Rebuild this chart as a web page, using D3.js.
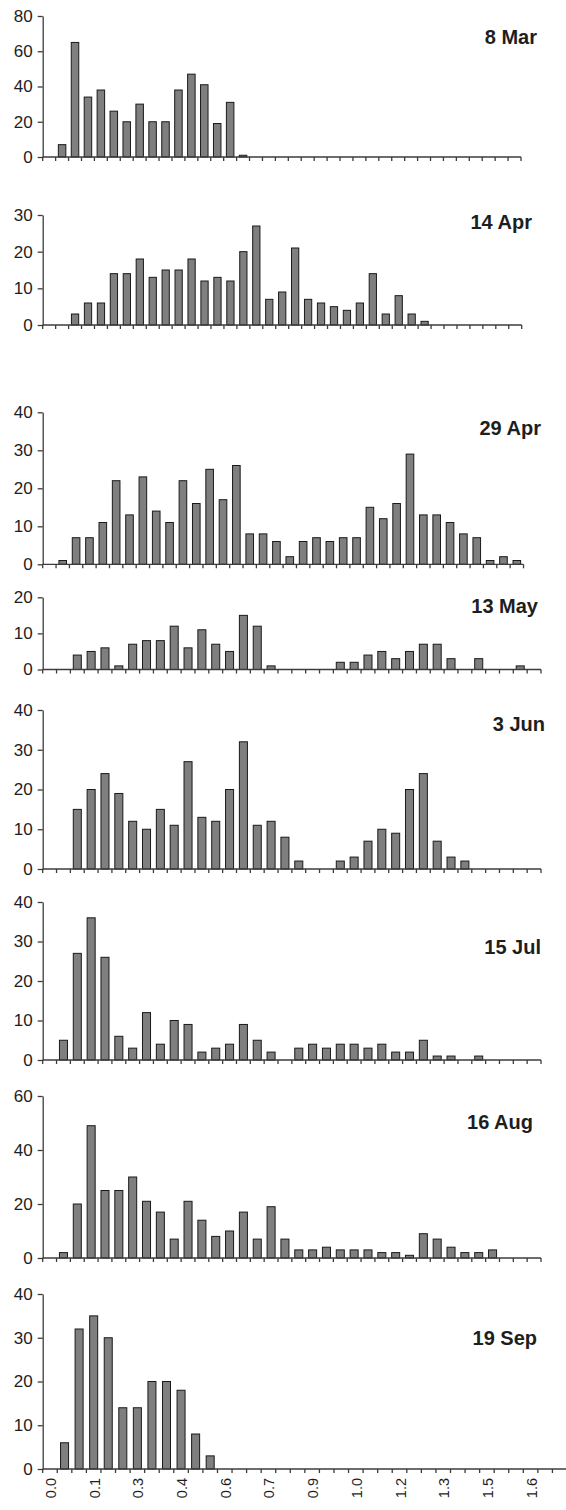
<!DOCTYPE html>
<html>
<head>
<meta charset="utf-8">
<script src="https://cdn.jsdelivr.net/npm/d3@7"></script>
<style>
  html, body { margin: 0; padding: 0; background: #fff; }
  svg { display: block; }
  .tick text { font-family: "Liberation Sans", Arial, sans-serif; }
</style>
</head>
<body>
<svg id="chart" width="566" height="1510"></svg>
<script>
// Size classes (lower bound of each 0.05-wide bin)
const bins = [0.00, 0.05, 0.10, 0.15, 0.20, 0.25, 0.30, 0.35, 0.40, 0.45,
              0.50, 0.55, 0.60, 0.65, 0.70, 0.75, 0.80, 0.85, 0.90, 0.95,
              1.00, 1.05, 1.10, 1.15, 1.20, 1.25, 1.30, 1.35, 1.40, 1.45,
              1.50, 1.55, 1.60, 1.65, 1.70, 1.75, 1.80];

// Labels shown under the bottom panel (every third bin)
const xTickLabels = ["0.0", "0.1", "0.3", "0.4", "0.6", "0.7", "0.9", "1.0", "1.2", "1.3", "1.5", "1.6"];

// Counts per bin for each sampling date
const mar8  = [0, 7, 65, 34, 38, 26, 20, 30, 20, 20, 38, 47, 41, 19, 31, 1, 0, 0, 0, 0,
               0, 0, 0, 0, 0, 0, 0, 0, 0, 0, 0, 0, 0, 0, 0, 0, 0];
const apr14 = [0, 0, 3, 6, 6, 14, 14, 18, 13, 15, 15, 18, 12, 13, 12, 20, 27, 7, 9, 21,
               7, 6, 5, 4, 6, 14, 3, 8, 3, 1, 0, 0, 0, 0, 0, 0, 0];
const apr29 = [0, 1, 7, 7, 11, 22, 13, 23, 14, 11, 22, 16, 25, 17, 26, 8, 8, 6, 2, 6,
               7, 6, 7, 7, 15, 12, 16, 29, 13, 13, 11, 8, 7, 1, 2, 1];
const may13 = [0, 0, 4, 5, 6, 1, 7, 8, 8, 12, 6, 11, 7, 5, 15, 12, 1, 0, 0, 0,
               0, 2, 2, 4, 5, 3, 5, 7, 7, 3, 0, 3, 0, 0, 1, 0];
const jun3  = [0, 0, 15, 20, 24, 19, 12, 10, 15, 11, 27, 13, 12, 20, 32, 11, 12, 8, 2, 0,
               0, 2, 3, 7, 10, 9, 20, 24, 7, 3, 2, 0, 0, 0, 0, 0];
const jul15 = [0, 5, 27, 36, 26, 6, 3, 12, 4, 10, 9, 2, 3, 4, 9, 5, 2, 0, 3, 4,
               3, 4, 4, 3, 4, 2, 2, 5, 1, 1, 0, 1, 0, 0, 0, 0];
const aug16 = [0, 2, 20, 49, 25, 25, 30, 21, 17, 7, 21, 14, 8, 10, 17, 7, 19, 7, 3, 3,
               4, 3, 3, 3, 2, 2, 1, 9, 7, 4, 2, 2, 3, 0, 0, 0];
const sep19 = [0, 6, 32, 35, 30, 14, 14, 20, 20, 18, 8, 3, 0, 0, 0, 0, 0, 0, 0, 0,
               0, 0, 0, 0, 0, 0, 0, 0, 0, 0, 0, 0, 0, 0, 0, 0];

// Panel titles, y-axis maxima and y tick steps
const dates  = ["8 Mar", "14 Apr", "29 Apr", "13 May", "3 Jun", "15 Jul", "16 Aug", "19 Sep"];
const series = [mar8, apr14, apr29, may13, jun3, jul15, aug16, sep19];
const yMax   = [80, 30, 40, 20, 40, 40, 60, 40];
const yStep  = [20, 10, 10, 10, 10, 10, 20, 10];

// Placement of each panel on the page
const layout = [
  { x0: 42.7, x1: 521.0, yTop: 16.0,   y0: 157.0,  titleX: 537, titleY: 37,   barFrac: 0.58 },
  { x0: 42.7, x1: 521.7, yTop: 215.0,  y0: 325.0,  titleX: 532, titleY: 222,  barFrac: 0.56 },
  { x0: 42.7, x1: 523.5, yTop: 412.3,  y0: 564.3,  titleX: 541, titleY: 428,  barFrac: 0.57 },
  { x0: 42.7, x1: 541.0, yTop: 597.3,  y0: 669.5,  titleX: 538, titleY: 606,  barFrac: 0.58 },
  { x0: 42.7, x1: 541.0, yTop: 710.0,  y0: 869.0,  titleX: 545, titleY: 724,  barFrac: 0.58 },
  { x0: 42.7, x1: 541.0, yTop: 902.0,  y0: 1060.0, titleX: 541, titleY: 947,  barFrac: 0.58 },
  { x0: 42.7, x1: 541.0, yTop: 1096.0, y0: 1258.0, titleX: 533, titleY: 1122, barFrac: 0.58 },
  { x0: 42.7, x1: 567.0, yTop: 1294.0, y0: 1469.0, titleX: 537, titleY: 1338, barFrac: 0.55 }
];

const svg = d3.select("#chart");
const axisColor = "#3c3c3c";
const textColor = "#1e1e1e";

series.forEach((counts, i) => {
  const L = layout[i];
  const cats = bins.slice(0, counts.length);
  const g = svg.append("g");

  const x = d3.scaleBand().domain(cats).range([L.x0, L.x1]).padding(0);
  const y = d3.scaleLinear().domain([0, yMax[i]]).range([L.y0, L.yTop]);
  const bw = x.bandwidth();
  const barW = bw * L.barFrac;

  // bars
  g.selectAll("rect.bar")
    .data(counts.map((v, k) => ({ bin: cats[k], v })).filter(d => d.v > 0))
    .join("rect")
    .attr("class", "bar")
    .attr("x", d => x(d.bin) + (bw - barW) / 2)
    .attr("y", d => y(d.v))
    .attr("width", barW)
    .attr("height", d => L.y0 - y(d.v))
    .attr("fill", "#7f7f7f")
    .attr("stroke", "#1a1a1a")
    .attr("stroke-width", 1);

  // y axis
  const yTicks = d3.range(0, yMax[i] + 0.001, yStep[i]);
  const yAxis = g.append("g")
    .attr("transform", `translate(${L.x0},0)`)
    .call(d3.axisLeft(y).tickValues(yTicks).tickSize(5).tickSizeOuter(0).tickPadding(5).tickFormat(d3.format("d")));
  yAxis.select(".domain").attr("stroke", axisColor).attr("stroke-width", 1.3);
  yAxis.selectAll(".tick line").attr("stroke", axisColor).attr("stroke-width", 1.3);
  yAxis.selectAll(".tick text")
    .attr("fill", textColor)
    .style("font-size", "17px");

  // x axis baseline with tick marks on the bin boundaries
  const xg = g.append("g");
  xg.append("line")
    .attr("x1", L.x0).attr("x2", L.x1)
    .attr("y1", L.y0).attr("y2", L.y0)
    .attr("stroke", axisColor).attr("stroke-width", 1.3);
  const edges = cats.map(c => x(c)).concat([x(cats[cats.length - 1]) + bw]);
  xg.selectAll("line.xt")
    .data(edges)
    .join("line")
    .attr("class", "xt")
    .attr("x1", d => d).attr("x2", d => d)
    .attr("y1", L.y0).attr("y2", L.y0 + 4)
    .attr("stroke", axisColor).attr("stroke-width", 1.3);

  // rotated bin labels on the last panel only
  if (i === series.length - 1) {
    xg.selectAll("text.xl")
      .data(xTickLabels)
      .join("text")
      .attr("class", "xl")
      .attr("transform", (d, k) => `translate(${x(cats[k * 3]) + bw / 2 + 1},${L.y0 + 9}) rotate(-90)`)
      .attr("text-anchor", "end")
      .attr("dominant-baseline", "central")
      .attr("fill", textColor)
      .style("font-family", "'Liberation Sans', Arial, sans-serif")
      .style("font-size", "14.5px")
      .text(d => d);
  }

  // date label
  g.append("text")
    .attr("x", L.titleX)
    .attr("y", L.titleY)
    .attr("text-anchor", "end")
    .attr("dominant-baseline", "central")
    .attr("fill", textColor)
    .style("font-family", "'Liberation Sans', Arial, sans-serif")
    .style("font-weight", "bold")
    .style("font-size", "20px")
    .text(dates[i]);
});
</script>
</body>
</html>
